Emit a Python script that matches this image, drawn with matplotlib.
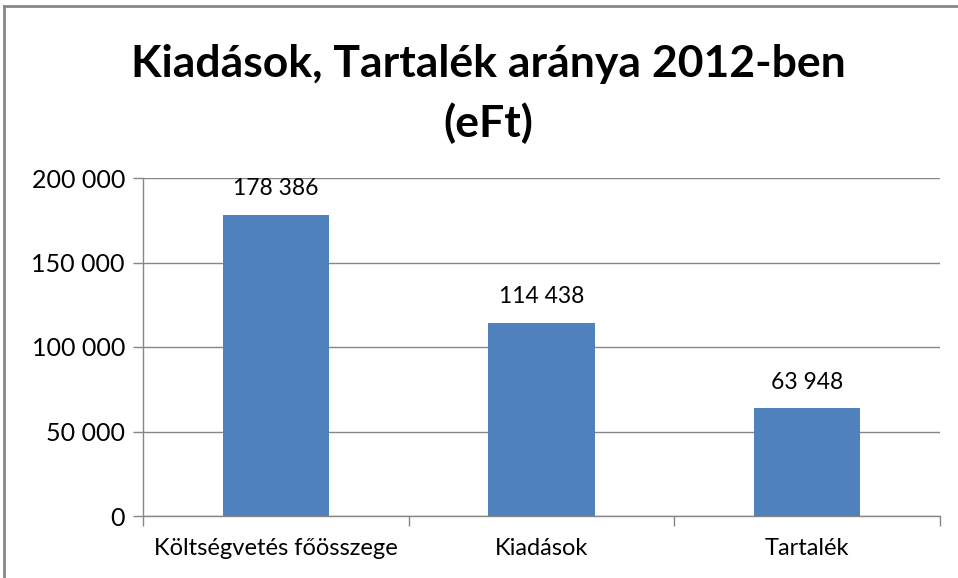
import matplotlib.pyplot as plt
from matplotlib.lines import Line2D
from matplotlib.ticker import FuncFormatter

categories = ['Költségvetés főösszege', 'Kiadások', 'Tartalék']
values = [178386, 114438, 63948]
yticks = [0, 50000, 100000, 150000, 200000]

plt.rcParams['font.family'] = ['Lato', 'DejaVu Sans']

W, H = 958, 578
fig = plt.figure(figsize=(W / 100, H / 100), dpi=100)
ax = fig.add_axes([143 / W, 1 - 516 / H, (940 - 143) / W, (516 - 178) / H])


def fmt(v, pos=None):
    return f'{int(v):,}'.replace(',', ' ')


grid_c = '#868686'
ax.bar(range(len(values)), values, width=0.4, color='#4F81BD', zorder=3)
ax.set_xlim(-0.5, len(values) - 0.5)
ax.set_ylim(0, 200000)
ax.set_yticks(yticks)
ax.yaxis.set_major_formatter(FuncFormatter(fmt))
ax.yaxis.grid(True, color=grid_c, linewidth=1)
ax.set_axisbelow(True)
ax.set_xticks([-0.5, 0.5, 1.5, 2.5])
ax.set_xticklabels([])
ax.set_xticks(range(len(values)), minor=True)
ax.set_xticklabels(categories, minor=True)
ax.tick_params(axis='x', which='minor', length=0, labelsize=17, pad=16)
ax.tick_params(axis='x', which='major', length=7, color=grid_c, width=1)
ax.tick_params(axis='y', length=7, color=grid_c, width=1, labelsize=18, pad=6)
for s in ['top', 'right']:
    ax.spines[s].set_visible(False)
for s in ['left', 'bottom']:
    ax.spines[s].set_color(grid_c)
    ax.spines[s].set_linewidth(1)

for i, v in enumerate(values):
    ax.annotate(fmt(v), (i, v), xytext=(0, 11), textcoords='offset points',
                ha='center', va='bottom', fontsize=16.5)

fig.text(488 / W, 1 - 94 / H, 'Kiadások, Tartalék aránya 2012-ben\n(eFt)',
         ha='center', va='center', fontsize=32, fontweight='bold',
         linespacing=1.55)

# outer chart border (partially visible in the crop)
fig.add_artist(Line2D([4 / W, 1], [1 - 6 / H, 1 - 6 / H], transform=fig.transFigure,
                      color='#888888', linewidth=2))
fig.add_artist(Line2D([4 / W, 4 / W], [0, 1 - 6 / H], transform=fig.transFigure,
                      color='#888888', linewidth=2))

fig.savefig('out.png', dpi=100)
